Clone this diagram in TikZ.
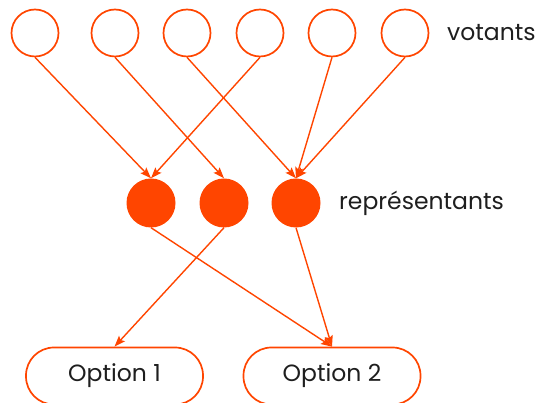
\documentclass[tikz,border=0pt]{standalone}
\usepackage{fontspec}
\setmainfont{Poppins}
\usetikzlibrary{arrows.meta}
\definecolor{orng}{HTML}{FF4500}
\definecolor{txt}{HTML}{1E1E1E}
\begin{document}
\begin{tikzpicture}[x=1pt,y=-1pt,
  voter/.style={circle,draw=orng,line width=1.7pt,minimum size=47pt,inner sep=0pt},
  rep/.style={circle,fill=orng,minimum size=49pt,inner sep=0pt},
  opt/.style={draw=orng,line width=1.7pt,rounded corners=28pt,minimum width=177pt,minimum height=57pt,inner sep=0pt,font=\fontsize{23.5}{27}\selectfont,text=txt},
  lbl/.style={font=\fontsize{23.5}{27}\selectfont,text=txt,anchor=west,inner sep=0pt},
  edge/.style={draw=orng,line width=1.4pt,-{Stealth[length=11pt,width=8pt,inset=2pt]}}]
\useasboundingbox (0,0) rectangle (539,403);
\node[voter] (v1) at (35,33) {};
\node[voter] (v2) at (115,33) {};
\node[voter] (v3) at (187,33) {};
\node[voter] (v4) at (260,33) {};
\node[voter] (v5) at (332,33) {};
\node[voter] (v6) at (405,33) {};
\node[lbl] (lv) at (447,33) {votants};
\node[rep] (r1) at (151,203) {};
\node[rep] (r2) at (224,203) {};
\node[rep] (r3) at (296,203) {};
\node[lbl] (lr) at (339,203) {représentants};
\node[opt] (o1) at (114.5,376) {Option 1};
\node[opt] (o2) at (332,376) {Option 2};
\draw[edge] (v1.south) -- (r1.north);
\draw[edge] (v4.south) -- (r1.north);
\draw[edge] (v2.south) -- (r2.north);
\draw[edge] (v3.south) -- (r3.north);
\draw[edge] (v5.south) -- (r3.north);
\draw[edge] (v6.south) -- (r3.north);
\draw[edge] (r1.south) -- (o2.north);
\draw[edge] (r2.south) -- (o1.north);
\draw[edge] (r3.south) -- (o2.north);
\end{tikzpicture}
\end{document}
